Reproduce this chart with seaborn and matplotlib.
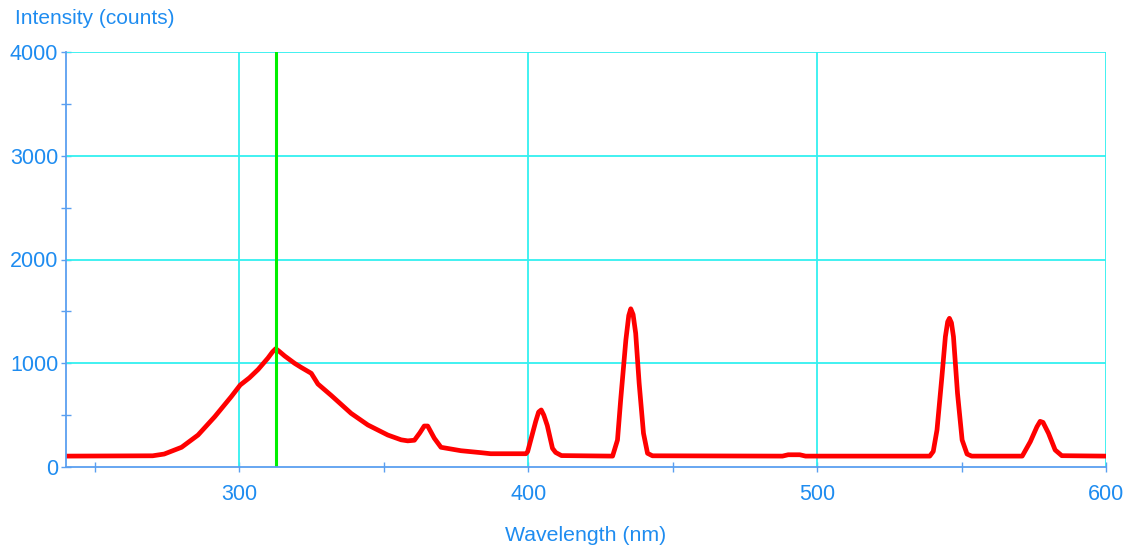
import matplotlib
matplotlib.use("Agg")
import matplotlib.pyplot as plt
import seaborn as sns
import pandas as pd
from matplotlib.ticker import MultipleLocator

# ---- data ----
wavelength = [240, 270, 274, 280, 285.7, 291.5, 297.2, 300.3, 303.5, 306.5, 309.9, 311.5,
              312.6, 313.8, 315.7, 319.1, 321.4, 324.9, 327.2, 331.8, 338.7, 344.5, 351.4,
              356.0, 358.3, 360.6, 362.5, 364.0, 365.2, 367.5, 369.8, 376.7, 383.7, 387.0,
              399.2, 399.8, 401.5, 402.6, 403.6, 404.5, 405.4, 406.6, 408.4, 409.5, 411.5,
              429.2, 430.9, 432.0, 433.8, 434.8, 435.5, 436.3, 437.2, 438.4, 439.9, 441.3,
              443.0, 488.0, 490.0, 494.0, 496.0, 539.0, 540.2, 541.5, 543.2, 544.4, 545.2,
              545.8, 546.5, 547.2, 548.6, 550.2, 551.9, 553.5, 571.0, 573.8, 576.1, 577.2,
              578.2, 580.1, 582.4, 584.7, 600]
intensity = [105, 108, 125, 190, 308, 485, 678, 790, 860, 940, 1050, 1110,
             1140, 1115, 1070, 1000, 960, 903, 800, 690, 517, 405, 308,
             262, 252, 258, 330, 395, 395, 277, 190, 157, 138, 128,
             128, 148, 325, 440, 530, 550, 500, 400, 180, 140, 110,
             105, 260, 646, 1224, 1460, 1525, 1470, 1289, 807, 325, 132,
             108, 105, 118, 118, 105, 105, 150, 357, 870, 1256, 1400,
             1433, 1390, 1256, 710, 260, 125, 105, 105, 244, 388, 440,
             430, 325, 164, 109, 105]
marker_wavelength = [312.7]

x_major = [300, 400, 500, 600]
y_major = [0, 1000, 2000, 3000, 4000]

TEXT = "#1e8cf0"
AXIS = "#5a9ff0"
GRID = "#33f0f0"

sns.set_style("white")
plt.rcParams["font.family"] = ["Liberation Sans", "DejaVu Sans"]

fig = plt.figure(figsize=(11.33, 5.46), dpi=100)
ax = fig.add_axes([66/1133, 1-467/546, (1106-66)/1133, (467-52)/546])

df = pd.DataFrame({"Wavelength": wavelength, "Intensity": intensity})
sns.lineplot(data=df, x="Wavelength", y="Intensity", ax=ax, color="#ff0000",
             linewidth=3.4, zorder=3)
for m in marker_wavelength:
    ax.axvline(m, color="#00f000", linewidth=2.2, zorder=4)

ax.set_xlim(240, 600)
ax.set_ylim(0, 4000)
ax.set_xticks(x_major)
ax.set_yticks(y_major)
ax.xaxis.set_minor_locator(MultipleLocator(50))
ax.yaxis.set_minor_locator(MultipleLocator(500))

for v in x_major:
    ax.axvline(v, color=GRID, linewidth=1.3, zorder=1)
for v in y_major[1:]:
    ax.axhline(v, color=GRID, linewidth=1.3, zorder=1)

for s in ["top", "right"]:
    ax.spines[s].set_visible(False)
for s in ["left", "bottom"]:
    ax.spines[s].set_color(AXIS)
    ax.spines[s].set_linewidth(1.3)
    ax.spines[s].set_zorder(5)

ax.tick_params(which="both", direction="inout", color=AXIS, width=1.0,
               labelcolor=TEXT, labelsize=15.5, bottom=True, left=True)
ax.tick_params(which="major", length=7)
ax.tick_params(which="minor", length=7)
ax.tick_params(axis="x", which="major", pad=9)
ax.tick_params(axis="y", which="major", pad=2)

ax.set_xlabel("Wavelength (nm)", color=TEXT, fontsize=15.3, labelpad=15)
ax.set_ylabel("")
fig.text(15/1133, 1-18/546, "Intensity (counts)", color=TEXT, fontsize=15,
         ha="left", va="center")

fig.savefig("out.png", dpi=100, facecolor="white")
